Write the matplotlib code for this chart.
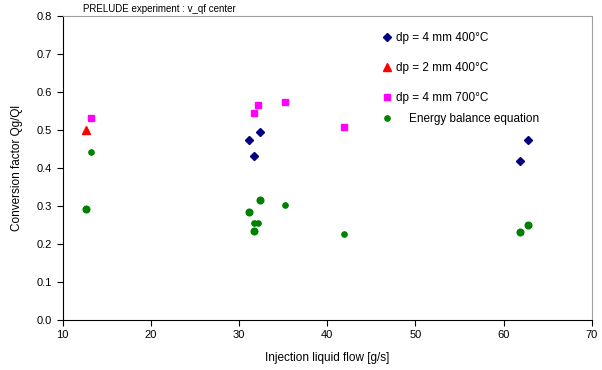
import matplotlib
matplotlib.use("Agg")
import matplotlib.pyplot as plt

plt.rcParams['font.family'] = ['Liberation Sans', 'DejaVu Sans']

# --- data ---
x_4mm_400 = [31.15, 31.7, 32.36, 61.87, 62.74]
y_4mm_400 = [0.474, 0.431, 0.494, 0.418, 0.474]

x_2mm_400 = [12.66]
y_2mm_400 = [0.50]

x_4mm_700 = [13.2, 31.7, 32.2, 35.26, 41.95]
y_4mm_700 = [0.530, 0.543, 0.565, 0.574, 0.508]

# energy balance, for the 400 C runs (bigger dots) and the 700 C runs
x_energy_400 = [12.66, 31.15, 31.7, 32.36, 61.87, 62.74]
y_energy_400 = [0.292, 0.283, 0.235, 0.316, 0.232, 0.250]
x_energy_700 = [13.2, 31.7, 32.2, 35.26, 41.95]
y_energy_700 = [0.441, 0.254, 0.254, 0.301, 0.227]

xticks = [10, 20, 30, 40, 50, 60, 70]
yticks = [0.0, 0.1, 0.2, 0.3, 0.4, 0.5, 0.6, 0.7, 0.8]

fig = plt.figure(figsize=(6.02, 3.70), dpi=100)
ax = fig.add_axes([0.104, 0.135, 0.879, 0.823])

h1, = ax.plot(x_4mm_400, y_4mm_400, 'D', color='#000080', ms=3.6, ls='none',
              label='dp = 4 mm 400°C')
h2, = ax.plot(x_2mm_400, y_2mm_400, '^', color='#ff0000', ms=5.5, ls='none',
              label='dp = 2 mm 400°C')
h3, = ax.plot(x_4mm_700, y_4mm_700, 's', color='#ff00ff', ms=4.3, ls='none',
              label='dp = 4 mm 700°C')
ax.plot(x_energy_400, y_energy_400, 'o', color='#008000', ms=4.8, ls='none')
h4, = ax.plot(x_energy_700, y_energy_700, 'o', color='#008000', ms=3.8, ls='none',
              label='    Energy balance equation')

ax.set_xlim(10, 70)
ax.set_ylim(0, 0.8)
ax.set_xticks(xticks)
ax.set_yticks(yticks)
ax.set_yticklabels([f"{v:.1f}" for v in yticks])
ax.tick_params(direction='out', length=4, labelsize=8, colors='black')

for s in ['top', 'right']:
    ax.spines[s].set_color('#a0a0a0')
for s in ['left', 'bottom']:
    ax.spines[s].set_color('black')

ax.set_xlabel('Injection liquid flow [g/s]', fontsize=8.5, labelpad=8)
ax.set_ylabel('Conversion factor Qg/Ql', fontsize=8.5, labelpad=10)

fig.text(0.138, 0.968, 'PRELUDE experiment : v_qf center', fontsize=7)

leg = ax.legend(handles=[h1, h2, h3], loc='upper left',
                bbox_to_anchor=(0.587, 0.98), frameon=False,
                fontsize=8.5, labelspacing=1.5, handlelength=0.6,
                handletextpad=0.4, markerscale=1.0)
ax.add_artist(leg)
ax.legend(handles=[h4], loc='upper left', bbox_to_anchor=(0.587, 0.716),
          frameon=False, fontsize=8.5, handlelength=0.6, handletextpad=0.4,
          markerscale=1.0)

fig.savefig('out.png', dpi=100)
